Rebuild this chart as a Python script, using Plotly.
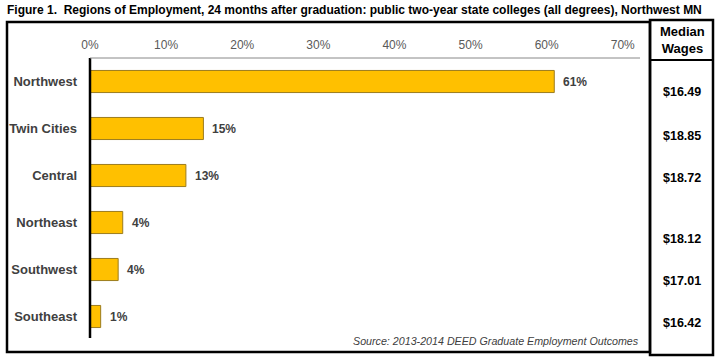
import plotly.graph_objects as go

regions = ["Northwest", "Twin Cities", "Central", "Northeast", "Southwest", "Southeast"]
shares = [61.0, 14.9, 12.6, 4.3, 3.7, 1.4]
share_labels = ["61%", "15%", "13%", "4%", "4%", "1%"]
wages = ["$16.49", "$18.85", "$18.72", "$18.12", "$17.01", "$16.42"]
x_ticks = [0, 10, 20, 30, 40, 50, 60, 70]

W, H = 721, 363
L, R, T, B = 90, 83, 58, 23
FONT = "Liberation Sans, Arial, sans-serif"

def px(x):
    return (x - L) / (W - L - R)

def py(y):
    return (H - B - y) / (H - T - B)

fig = go.Figure()
fig.add_trace(go.Bar(
    y=regions, x=shares, orientation="h",
    marker=dict(color="#FFC000", line=dict(color="#9C7C1E", width=1)),
    width=0.47, hoverinfo="skip",
))

annotations = []
for r, v, lab in zip(regions, shares, share_labels):
    annotations.append(dict(x=v, y=r, xref="x", yref="y", text=lab, showarrow=False,
                            xanchor="left", xshift=7,
                            font=dict(family=FONT, size=12, color="#404040", weight="bold")))

wage_y = [92, 136, 178, 239, 281, 323]
for w, yy in zip(wages, wage_y):
    annotations.append(dict(x=px(682), y=py(yy), xref="paper", yref="paper", text=w, showarrow=False,
                            xanchor="center", yanchor="middle",
                            font=dict(family=FONT, size=12.5, color="#000000", weight="bold")))

annotations.append(dict(x=px(682), y=py(40), xref="paper", yref="paper", text="Median<br>Wages",
                        showarrow=False, xanchor="center", yanchor="middle",
                        font=dict(family=FONT, size=13, color="#000000", weight="bold")))
annotations.append(dict(x=px(5), y=py(10), xref="paper", yref="paper",
                        text="Figure 1.  Regions of Employment, 24 months after graduation: public two-year state colleges (all degrees), Northwest MN",
                        showarrow=False, xanchor="left", yanchor="middle",
                        font=dict(family=FONT, size=12.0, color="#000000", weight="bold")))
annotations.append(dict(x=px(641), y=py(341), xref="paper", yref="paper",
                        text="<i>Source: 2013-2014 DEED Graduate Employment Outcomes</i>",
                        showarrow=False, xanchor="right", yanchor="middle",
                        font=dict(family=FONT, size=10.7, color="#404040")))

shapes = [
    dict(type="rect", xref="paper", yref="paper", x0=px(7), x1=px(650), y0=py(22), y1=py(352),
         line=dict(color="#000000", width=2.5)),
    dict(type="rect", xref="paper", yref="paper", x0=px(650), x1=px(713), y0=py(20), y1=py(355),
         line=dict(color="#000000", width=2.5)),
    dict(type="line", xref="paper", yref="paper", x0=px(650), x1=px(713), y0=py(60), y1=py(60),
         line=dict(color="#000000", width=2)),
    dict(type="line", xref="paper", yref="paper", x0=px(90), x1=px(90), y0=py(58), y1=py(338),
         line=dict(color="#000000", width=2.5)),
    dict(type="line", xref="paper", yref="paper", x0=px(90), x1=px(640), y0=py(58), y1=py(58),
         line=dict(color="#888888", width=1)),
]

fig.update_layout(
    width=W, height=H, autosize=False,
    margin=dict(l=L, r=R, t=T, b=B, autoexpand=False),
    paper_bgcolor="white", plot_bgcolor="white",
    showlegend=False,
    bargap=0.53,
    annotations=annotations,
    shapes=shapes,
    xaxis=dict(side="top", range=[0, 72], tickvals=x_ticks, ticktext=[f"{t}%" for t in x_ticks],
               showgrid=False, zeroline=False, showline=False, ticks="", automargin=False,
               ticklabelstandoff=6,
               tickfont=dict(family=FONT, size=12, color="#595959")),
    yaxis=dict(autorange="reversed", showgrid=False, zeroline=False, showline=False, ticks="",
               automargin=False, ticklabelstandoff=12,
               tickfont=dict(family=FONT, size=13, color="#404040", weight="bold")),
)

fig.write_html(
    "out.html",
    config={"displayModeBar": False},
    post_script="document.body.style.margin='0';document.body.style.overflow='hidden';",
)
